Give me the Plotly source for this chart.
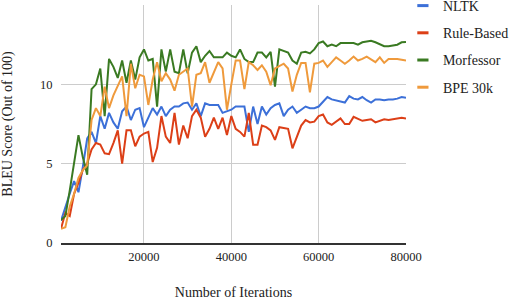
import plotly.graph_objects as go

iterations = list(range(1000, 80001, 1000))

nltk = [1.4, 2.3, 3.1, 3.9, 3.2, 4.8, 6.6, 7.0, 6.3, 8.0,
        7.2, 8.2, 7.6, 7.2, 8.3, 8.6, 7.75, 8.4, 8.5, 7.3,
        7.9, 8.5, 8.1, 8.6, 8.0, 8.4, 8.6, 8.6, 8.8, 8.85,
        8.4, 8.8, 8.0, 8.8, 8.7, 8.7, 8.7, 8.2, 8.3, 8.4,
        8.6, 8.6, 8.6, 7.0, 8.6, 7.5, 8.6, 8.1, 8.5, 8.7,
        8.8, 8.0, 8.4, 8.6, 8.2, 8.4, 8.6, 8.5, 8.5, 8.6,
        8.9, 9.2, 9.05, 8.97, 8.9, 8.85, 9.26, 9.1, 9.05, 9.2,
        9.0, 8.85, 9.05, 9.05, 9.0, 9.05, 9.05, 9.1, 9.2, 9.15]

rule_based = [0.9, 1.9, 1.7, 3.1, 3.8, 4.6, 5.0, 5.9, 6.3, 6.2,
              5.65, 5.6, 6.3, 7.1, 5.0, 7.1, 7.1, 6.1, 6.7, 6.9,
              7.0, 5.1, 6.0, 8.0, 6.7, 6.3, 8.2, 6.2, 7.4, 6.6,
              8.0, 8.4, 7.9, 6.7, 7.2, 7.9, 7.2, 7.9, 6.8, 8.0,
              7.2, 7.0, 6.7, 8.2, 6.2, 6.2, 7.4, 7.3, 7.1, 6.5,
              7.3, 7.25, 7.2, 5.97, 6.7, 7.4, 7.75, 7.6, 7.65, 8.0,
              8.1, 7.6, 7.45, 7.65, 7.85, 7.5, 7.5, 7.95, 7.85, 7.7,
              7.75, 7.8, 7.6, 7.7, 7.8, 7.75, 7.8, 7.85, 7.9, 7.85]

morfessor = [1.45, 1.7, 3.3, 5.0, 6.8, 5.4, 4.3, 9.7, 10.0, 11.0,
             8.0, 11.6, 11.1, 10.4, 11.5, 10.1, 11.5, 10.3, 11.7, 12.2,
             11.5, 11.6, 8.6, 12.2, 10.8, 12.2, 10.8, 10.7, 12.2, 10.7,
             12.0, 12.4, 11.4, 11.8, 12.1, 11.7, 11.7, 11.7, 12.0, 11.8,
             11.7, 12.2, 11.6, 11.4, 11.4, 12.0, 12.0, 11.7, 12.05, 9.85,
             12.2, 12.1, 12.0, 11.5, 11.3, 12.0, 12.05, 11.95, 12.2, 12.6,
             12.7, 12.4, 12.5, 12.4, 12.6, 12.6, 12.6, 12.6, 12.5, 12.65,
             12.7, 12.75, 12.65, 12.5, 12.4, 12.4, 12.45, 12.5, 12.65, 12.67]

bpe_30k = [0.9, 1.0, 2.3, 3.1, 4.1, 4.6, 4.9, 7.75, 8.5, 8.0,
           9.85, 8.5, 9.3, 9.85, 10.5, 8.0, 11.3, 9.75, 10.6, 10.5,
           8.7, 10.3, 11.4, 10.2, 10.7, 10.3, 9.6, 10.6, 10.8, 11.0,
           8.6, 10.6, 10.7, 11.4, 10.1, 10.8, 11.4, 11.0, 8.4, 10.0,
           11.5, 11.5, 9.7, 11.4, 11.2, 10.9, 11.2, 10.8, 9.95, 11.0,
           11.15, 11.3, 11.0, 9.55, 10.6, 11.35, 11.35, 9.5, 11.3, 11.35,
           11.5, 11.1, 11.4, 11.7, 11.5, 11.3, 11.5, 11.75, 11.5, 11.6,
           11.75, 11.6, 11.4, 11.7, 11.35, 11.6, 11.6, 11.6, 11.55, 11.5]

series_names = ["NLTK", "Rule-Based", "Morfessor", "BPE 30k"]
series_values = [nltk, rule_based, morfessor, bpe_30k]
colors = ["#3c70d8", "#dc3f17", "#3a7a22", "#ef9a3c"]

x_ticks = [20000, 40000, 60000, 80000]
y_ticks = [0, 5, 10, 15]

FONT = "Liberation Serif"
TXT = "#222222"

fig = go.Figure()
for name, vals, col in zip(series_names, series_values, colors):
    fig.add_trace(go.Scatter(x=iterations, y=vals, mode="lines", name=name,
                             line=dict(color=col, width=2), showlegend=False))
# legend entries (short line symbols)
for name, col in zip(series_names, colors):
    fig.add_trace(go.Scatter(x=[None], y=[None], mode="markers", name=name,
                             legendgroup=name,
                             marker=dict(symbol="line-ew", size=8, color=col,
                                         line=dict(color=col, width=3))))

fig.update_layout(
    width=512, height=300,
    margin=dict(l=61, r=106, t=5, b=57, autoexpand=False),
    paper_bgcolor="white", plot_bgcolor="white",
    font=dict(family=FONT, size=14, color=TXT),
    legend=dict(x=0.991, y=1.063, xanchor="left", yanchor="top",
                font=dict(family=FONT, size=14, color=TXT),
                itemwidth=30, traceorder="grouped", tracegroupgap=6,
                bgcolor="rgba(0,0,0,0)", borderwidth=0),
    xaxis=dict(range=[1000, 80000], tickvals=x_ticks,
               ticktext=[str(v) for v in x_ticks],
               showgrid=True, gridcolor="#cccccc", gridwidth=1,
               zeroline=False, showline=True, linecolor="#333333", linewidth=1.5,
               ticks="outside", ticklen=1, tickcolor="rgba(0,0,0,0)",
               tickfont=dict(family=FONT, size=12.5, color=TXT),
               title=dict(text="Number of Iterations", standoff=32,
                          font=dict(family=FONT, size=14, color=TXT)),
               automargin=False),
    yaxis=dict(range=[0, 15], tickvals=y_ticks,
               showgrid=True, gridcolor="#cccccc", gridwidth=1,
               zeroline=False, showline=False,
               ticks="outside", ticklen=5, tickcolor="rgba(0,0,0,0)",
               tickfont=dict(family=FONT, size=12.5, color=TXT),
               title=dict(text="BLEU Score (Out of 100)", standoff=27,
                          font=dict(family=FONT, size=14, color=TXT)),
               automargin=False),
)

fig.write_html("out.html", config={"displayModeBar": False},
               post_script="document.body.style.margin='0';")
